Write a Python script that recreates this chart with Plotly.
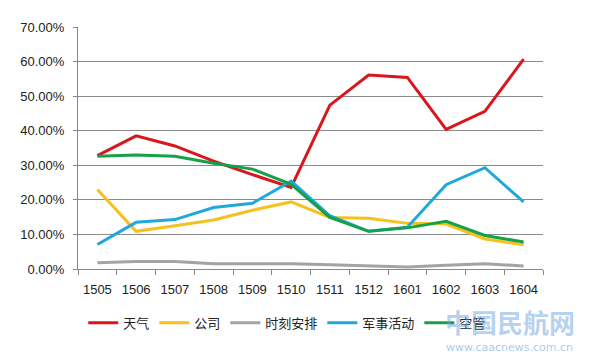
import plotly.graph_objects as go

months = ["1505", "1506", "1507", "1508", "1509", "1510", "1511", "1512", "1601", "1602", "1603", "1604"]
tianqi = [0.328, 0.385, 0.356, 0.312, 0.273, 0.236, 0.474, 0.561, 0.554, 0.404, 0.456, 0.607]
gongsi = [0.230, 0.109, 0.125, 0.142, 0.170, 0.194, 0.149, 0.147, 0.132, 0.130, 0.087, 0.070]
shike = [0.018, 0.022, 0.022, 0.015, 0.015, 0.015, 0.012, 0.009, 0.006, 0.011, 0.015, 0.009]
junshi = [0.071, 0.135, 0.143, 0.178, 0.190, 0.254, 0.154, 0.109, 0.121, 0.244, 0.293, 0.194]
kongguan = [0.326, 0.330, 0.326, 0.306, 0.289, 0.245, 0.149, 0.109, 0.119, 0.138, 0.097, 0.078]

series = [
    ("天气", tianqi, "#d8161c"),
    ("公司", gongsi, "#f6c11c"),
    ("时刻安排", shike, "#a3a3a3"),
    ("军事活动", junshi, "#20a8dd"),
    ("空管", kongguan, "#17a04a"),
]

fig = go.Figure()
for name, vals, color in series:
    fig.add_trace(go.Scatter(x=months, y=vals, name=name, mode="lines",
                             line=dict(color=color, width=3)))

font_family = "Liberation Sans, Arial, Noto Sans CJK SC, sans-serif"
fig.update_layout(
    width=590, height=363,
    margin=dict(l=69, r=55, t=15, b=102),
    paper_bgcolor="white", plot_bgcolor="white",
    font=dict(family=font_family, size=13, color="#222222"),
    showlegend=True,
    legend=dict(orientation="h", x=0.45, xanchor="center", y=-0.16, yanchor="top",
                font=dict(size=13, family="Noto Sans CJK SC, sans-serif"),
                itemwidth=30, tracegroupgap=0),
    xaxis=dict(type="category", range=[-0.5, len(months) - 0.5], showgrid=False,
               showline=True, linecolor="#888888",
               linewidth=1, ticks="outside", tickson="boundaries", ticklen=5,
               tickcolor="#888888", tickfont=dict(size=13), ticklabelstandoff=8),
    yaxis=dict(range=[0, 0.7], dtick=0.1, tickformat=".2%", showgrid=True,
               gridcolor="#8c8c8c", gridwidth=1, showline=True, linecolor="#888888",
               ticks="outside", ticklen=4, tickcolor="#888888", zeroline=False,
               tickfont=dict(size=13), ticklabelstandoff=6),
    annotations=[
        dict(text="<b>中国民航网</b>", xref="paper", yref="paper", x=0.929, y=-0.215,
             xanchor="center", yanchor="middle",
             showarrow=False, font=dict(size=26, color="rgba(110,165,225,0.5)",
                                        family="Noto Sans CJK SC, sans-serif")),
        dict(text="www.caacnews.com.cn", xref="paper", yref="paper", x=0.929, y=-0.325,
             xanchor="center", yanchor="middle",
             showarrow=False, font=dict(size=11, color="rgba(110,165,225,0.6)",
                                        family="DejaVu Sans, sans-serif")),
    ],
)
fig.write_html("out.html")
